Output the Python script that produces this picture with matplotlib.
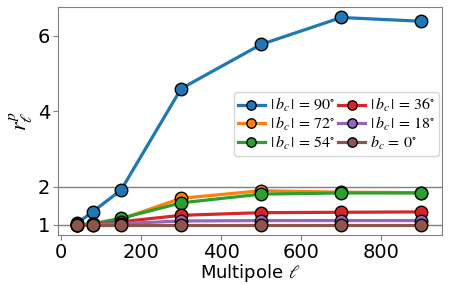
import matplotlib.pyplot as plt

# multipole bins
ell = [40, 80, 150, 300, 500, 700, 900]

# r_ell^p for each latitude cut
r_90 = [1.04, 1.35, 1.92, 4.60, 5.77, 6.48, 6.38]
r_72 = [1.00, 1.02, 1.15, 1.70, 1.90, 1.86, 1.85]
r_54 = [1.00, 1.03, 1.17, 1.58, 1.81, 1.84, 1.84]
r_36 = [1.00, 1.01, 1.08, 1.25, 1.32, 1.33, 1.34]
r_18 = [1.00, 1.00, 1.03, 1.10, 1.11, 1.11, 1.11]
r_0 = [1.00, 1.00, 1.00, 1.00, 1.00, 1.00, 1.00]

labels = [r'$|\,b_c\,| \,=\, 90^{\circ}$', r'$|\,b_c\,| \,=\, 72^{\circ}$',
          r'$|\,b_c\,| \,=\, 54^{\circ}$', r'$|\,b_c\,| \,=\, 36^{\circ}$',
          r'$|\,b_c\,| \,=\, 18^{\circ}$', r'$b_c \,=\, 0^{\circ}$']
series = [r_90, r_72, r_54, r_36, r_18, r_0]

plt.rcParams['mathtext.fontset'] = 'stix'

fig, ax = plt.subplots(figsize=(4.74, 2.85), dpi=100)

ax.axhline(1, color='gray', lw=1, zorder=0)
ax.axhline(2, color='gray', lw=1, zorder=0)

for y, lab in zip(series, labels):
    ax.plot(ell, y, '-o', lw=2.3, ms=9, mec='black', mew=1, label=lab)

ax.set_xlim(-8, 952)
ax.set_yticks([1, 2, 4, 6])
ax.set_xticks([0, 200, 400, 600, 800])
ax.tick_params(labelsize=14, color='gray', pad=2)
for s in ax.spines.values():
    s.set_color('gray')

ax.set_xlabel(r'Multipole $\ell$', fontsize=13, labelpad=0)
ax.set_ylabel(r'$r_\ell^p$', fontsize=16, labelpad=2)

ax.legend(ncol=2, fontsize=11.5, loc='center right', bbox_to_anchor=(1.0, 0.487),
          markerscale=0.75, handlelength=1.7, handletextpad=0.3, columnspacing=0.2,
          labelspacing=0.05, borderpad=0.25, borderaxespad=0.2)

fig.subplots_adjust(left=0.122, right=0.933, top=0.975, bottom=0.175)
fig.savefig('out.png')
